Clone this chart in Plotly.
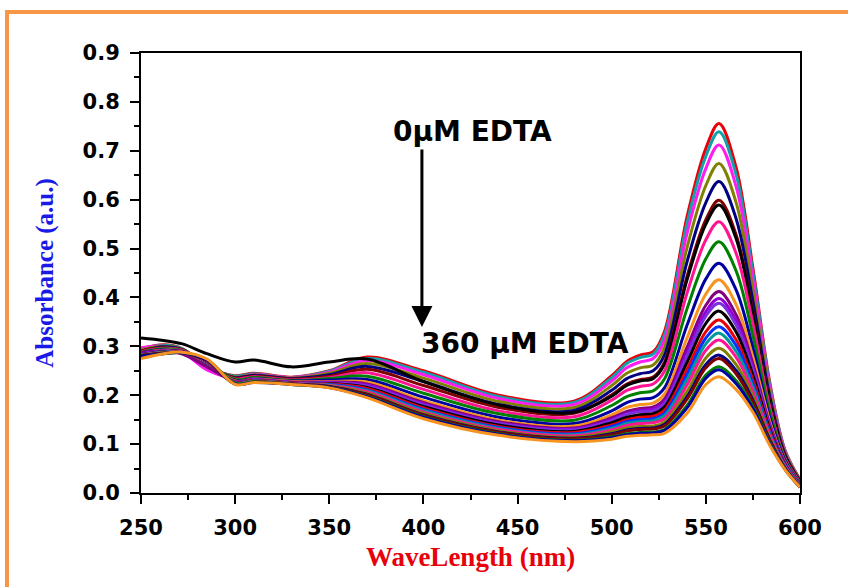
import plotly.graph_objects as go

wavelength = [250, 262, 272, 285, 300, 310, 330, 350, 370, 400, 440, 480,
              500, 508, 515, 522, 528, 540, 550, 557, 566, 575, 584, 592, 600]

# Absorbance spectra, 0 uM EDTA (top) to 360 uM EDTA (bottom)
abs_00 = [0.295, 0.303, 0.295, 0.258, 0.240, 0.245, 0.237, 0.250, 0.278, 0.250, 0.200, 0.188, 0.240, 0.269, 0.282, 0.289, 0.330, 0.565, 0.705, 0.756, 0.667, 0.460, 0.225, 0.088, 0.028]
abs_01 = [0.294, 0.302, 0.295, 0.259, 0.239, 0.244, 0.236, 0.249, 0.275, 0.247, 0.197, 0.185, 0.236, 0.265, 0.277, 0.284, 0.323, 0.552, 0.689, 0.739, 0.652, 0.450, 0.221, 0.087, 0.027]
abs_02 = [0.297, 0.300, 0.288, 0.252, 0.236, 0.243, 0.236, 0.247, 0.271, 0.242, 0.193, 0.181, 0.229, 0.256, 0.268, 0.275, 0.312, 0.531, 0.664, 0.712, 0.628, 0.435, 0.214, 0.085, 0.026]
abs_03 = [0.293, 0.300, 0.294, 0.260, 0.237, 0.242, 0.235, 0.245, 0.265, 0.235, 0.187, 0.175, 0.220, 0.245, 0.256, 0.262, 0.297, 0.502, 0.629, 0.674, 0.595, 0.413, 0.205, 0.082, 0.026]
abs_04 = [0.290, 0.299, 0.293, 0.261, 0.236, 0.241, 0.234, 0.242, 0.259, 0.228, 0.181, 0.169, 0.210, 0.234, 0.244, 0.250, 0.282, 0.473, 0.594, 0.637, 0.562, 0.392, 0.196, 0.079, 0.024]
abs_05 = [0.291, 0.297, 0.292, 0.262, 0.235, 0.239, 0.233, 0.239, 0.253, 0.220, 0.175, 0.163, 0.201, 0.223, 0.232, 0.237, 0.267, 0.443, 0.559, 0.599, 0.529, 0.371, 0.186, 0.076, 0.023]
abs_06 = [0.317, 0.312, 0.305, 0.285, 0.268, 0.272, 0.258, 0.268, 0.274, 0.228, 0.180, 0.165, 0.198, 0.220, 0.229, 0.234, 0.263, 0.436, 0.550, 0.589, 0.521, 0.365, 0.184, 0.075, 0.023]
abs_07 = [0.289, 0.296, 0.292, 0.263, 0.233, 0.238, 0.231, 0.236, 0.246, 0.212, 0.168, 0.156, 0.190, 0.210, 0.218, 0.223, 0.249, 0.409, 0.518, 0.555, 0.491, 0.346, 0.175, 0.072, 0.022]
abs_08 = [0.288, 0.295, 0.291, 0.265, 0.232, 0.236, 0.230, 0.234, 0.239, 0.204, 0.162, 0.149, 0.179, 0.197, 0.205, 0.209, 0.233, 0.377, 0.479, 0.514, 0.455, 0.322, 0.165, 0.069, 0.020]
abs_09 = [0.287, 0.293, 0.290, 0.266, 0.230, 0.234, 0.229, 0.231, 0.232, 0.196, 0.155, 0.142, 0.168, 0.185, 0.192, 0.195, 0.215, 0.343, 0.438, 0.470, 0.416, 0.297, 0.154, 0.066, 0.019]
abs_10 = [0.286, 0.292, 0.290, 0.267, 0.229, 0.233, 0.228, 0.228, 0.227, 0.189, 0.149, 0.137, 0.160, 0.175, 0.181, 0.184, 0.202, 0.317, 0.407, 0.436, 0.386, 0.278, 0.146, 0.063, 0.018]
abs_11 = [0.287, 0.291, 0.284, 0.258, 0.228, 0.232, 0.227, 0.227, 0.223, 0.185, 0.146, 0.133, 0.154, 0.167, 0.173, 0.176, 0.192, 0.298, 0.384, 0.412, 0.365, 0.264, 0.140, 0.061, 0.017]
abs_12 = [0.285, 0.290, 0.290, 0.268, 0.227, 0.231, 0.226, 0.226, 0.221, 0.182, 0.143, 0.131, 0.150, 0.163, 0.169, 0.172, 0.186, 0.287, 0.371, 0.398, 0.353, 0.256, 0.137, 0.060, 0.017]
abs_13 = [0.284, 0.290, 0.289, 0.268, 0.227, 0.231, 0.226, 0.225, 0.219, 0.180, 0.142, 0.129, 0.148, 0.161, 0.166, 0.168, 0.182, 0.280, 0.362, 0.388, 0.344, 0.251, 0.134, 0.059, 0.016]
abs_14 = [0.283, 0.289, 0.289, 0.269, 0.226, 0.230, 0.225, 0.224, 0.216, 0.177, 0.139, 0.126, 0.144, 0.155, 0.160, 0.162, 0.176, 0.267, 0.347, 0.372, 0.330, 0.241, 0.130, 0.058, 0.016]
abs_15 = [0.283, 0.288, 0.288, 0.269, 0.226, 0.230, 0.225, 0.223, 0.214, 0.174, 0.136, 0.124, 0.139, 0.150, 0.155, 0.157, 0.169, 0.253, 0.330, 0.354, 0.314, 0.231, 0.126, 0.057, 0.015]
abs_16 = [0.282, 0.288, 0.288, 0.270, 0.225, 0.229, 0.224, 0.222, 0.211, 0.171, 0.134, 0.121, 0.136, 0.146, 0.150, 0.152, 0.163, 0.242, 0.317, 0.340, 0.302, 0.223, 0.122, 0.056, 0.015]
abs_17 = [0.282, 0.288, 0.288, 0.270, 0.225, 0.229, 0.224, 0.221, 0.209, 0.169, 0.132, 0.119, 0.132, 0.142, 0.146, 0.148, 0.158, 0.232, 0.305, 0.327, 0.290, 0.216, 0.119, 0.055, 0.015]
abs_18 = [0.282, 0.287, 0.288, 0.270, 0.224, 0.228, 0.224, 0.220, 0.207, 0.166, 0.130, 0.117, 0.129, 0.138, 0.142, 0.144, 0.152, 0.221, 0.292, 0.313, 0.278, 0.208, 0.116, 0.054, 0.014]
abs_19 = [0.281, 0.287, 0.287, 0.271, 0.224, 0.228, 0.223, 0.219, 0.204, 0.163, 0.127, 0.114, 0.125, 0.133, 0.136, 0.137, 0.145, 0.208, 0.276, 0.296, 0.263, 0.198, 0.111, 0.052, 0.013]
abs_20 = [0.281, 0.286, 0.287, 0.271, 0.223, 0.227, 0.223, 0.218, 0.202, 0.160, 0.125, 0.112, 0.121, 0.129, 0.132, 0.133, 0.140, 0.197, 0.263, 0.282, 0.251, 0.190, 0.108, 0.051, 0.013]
abs_21 = [0.281, 0.286, 0.287, 0.271, 0.223, 0.227, 0.223, 0.217, 0.201, 0.159, 0.124, 0.111, 0.119, 0.127, 0.130, 0.131, 0.137, 0.192, 0.256, 0.275, 0.244, 0.186, 0.106, 0.050, 0.013]
abs_22 = [0.280, 0.285, 0.287, 0.273, 0.224, 0.227, 0.222, 0.216, 0.198, 0.156, 0.121, 0.108, 0.115, 0.121, 0.124, 0.125, 0.130, 0.179, 0.241, 0.258, 0.230, 0.177, 0.102, 0.049, 0.012]
abs_23 = [0.280, 0.285, 0.287, 0.272, 0.223, 0.226, 0.222, 0.216, 0.197, 0.155, 0.120, 0.107, 0.113, 0.119, 0.122, 0.123, 0.128, 0.174, 0.235, 0.252, 0.224, 0.173, 0.100, 0.049, 0.012]
abs_24 = [0.275, 0.285, 0.288, 0.274, 0.222, 0.226, 0.222, 0.215, 0.195, 0.152, 0.118, 0.105, 0.110, 0.116, 0.118, 0.119, 0.122, 0.163, 0.222, 0.238, 0.212, 0.165, 0.097, 0.048, 0.012]

series = [abs_00, abs_01, abs_02, abs_03, abs_04, abs_05, abs_06, abs_07, abs_08,
          abs_09, abs_10, abs_11, abs_12, abs_13, abs_14, abs_15, abs_16, abs_17,
          abs_18, abs_19, abs_20, abs_21, abs_22, abs_23, abs_24]

colors = ["#E8000B", "#13A0A8", "#FF1CF0", "#808000", "#000080", "#800000",
          "#000000", "#FF1493", "#008000", "#0000A0", "#F7931E", "#800080",
          "#9400D3", "#7B2FE0", "#000000", "#E8000B", "#0033FF", "#009999",
          "#FF1493", "#808000", "#000080", "#800000", "#008000", "#0000A0",
          "#F7931E"]

x_ticks = [250, 300, 350, 400, 450, 500, 550, 600]
y_ticks = [0.0, 0.1, 0.2, 0.3, 0.4, 0.5, 0.6, 0.7, 0.8, 0.9]

fig = go.Figure()
for vals, col in zip(series, colors):
    fig.add_trace(go.Scatter(x=wavelength, y=vals, mode="lines",
                             line=dict(color=col, width=3, shape="spline", smoothing=1.0),
                             showlegend=False, hoverinfo="skip"))

tick_font = dict(family="DejaVu Sans", size=21, color="black", weight="bold")

fig.update_xaxes(range=[250, 600], tickvals=x_ticks, ticks="outside", ticklen=9,
                 tickwidth=2, tickcolor="black", showline=True, linewidth=2,
                 linecolor="black", mirror=True, showgrid=False, zeroline=False,
                 tickfont=tick_font, ticklabelstandoff=6,
                 minor=dict(dtick=25, ticks="outside", ticklen=5, tickwidth=1.5,
                            tickcolor="black", showgrid=False),
                 title=dict(text="WaveLength (nm)", standoff=8,
                            font=dict(family="Liberation Serif", size=27, color="#E8000B", weight="bold")))
fig.update_yaxes(range=[0, 0.9], tickvals=y_ticks, tickformat=".1f", ticks="outside",
                 ticklen=9, tickwidth=2, tickcolor="black", showline=True, linewidth=2,
                 linecolor="black", mirror=True, showgrid=False, zeroline=False,
                 tickfont=tick_font, ticklabelstandoff=6,
                 minor=dict(dtick=0.05, ticks="outside", ticklen=5, tickwidth=1.5,
                            tickcolor="black", showgrid=False),
                 title=dict(text="Absorbance (a.u.)", standoff=22,
                            font=dict(family="Liberation Serif", size=25, color="#1A1AE6", weight="bold")))

ann_font = dict(family="DejaVu Sans", size=28, color="black", weight="bold")
fig.add_annotation(x=399.2, y=0.3395, ax=399.2, ay=0.7055, xref="x", yref="y",
                   axref="x", ayref="y", text="", showarrow=True, arrowhead=2,
                   arrowsize=1.4, arrowwidth=3, arrowcolor="black")
fig.add_annotation(x=426.0, y=0.740, xref="x", yref="y", text="0μM EDTA",
                   showarrow=False, font=ann_font)
fig.add_annotation(x=453.9, y=0.305, xref="x", yref="y", text="360 μM EDTA",
                   showarrow=False, font=ann_font)

# orange outer frame
fig.add_shape(type="rect", xref="paper", yref="paper", x0=-0.2033, x1=1.12,
              y0=-0.3, y1=1.093, line=dict(color="#F79646", width=4),
              fillcolor="rgba(0,0,0,0)", layer="below")

fig.update_layout(width=848, height=587, margin=dict(l=141, r=48, t=53, b=94),
                  paper_bgcolor="white", plot_bgcolor="white")

fig.write_html("out.html")
